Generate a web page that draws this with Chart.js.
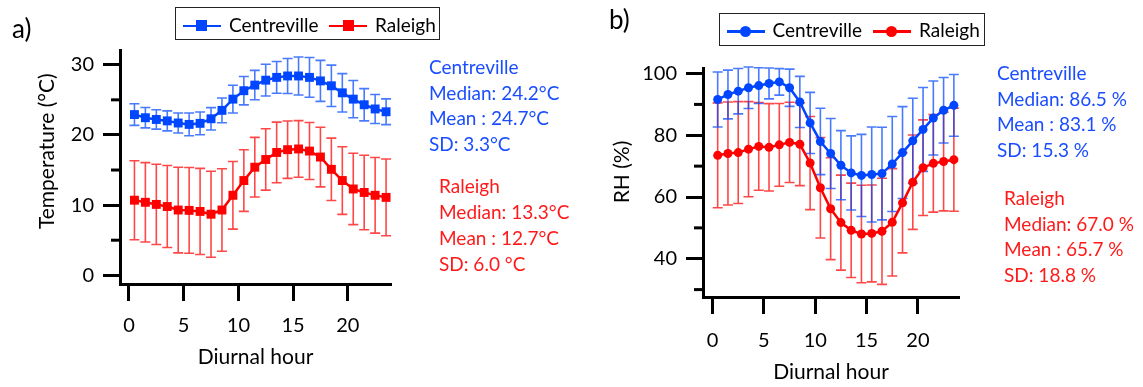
<!DOCTYPE html>
<html>
<head>
<meta charset="utf-8">
<script src="https://cdn.jsdelivr.net/npm/chart.js@4.4.1/dist/chart.umd.min.js"></script>
<style>
  body { margin: 0; background: #fff; font-family: Lato, sans-serif; }
  #wrap { position: relative; width: 1143px; height: 387px; overflow: hidden; }
  canvas { position: absolute; top: 0; }
  .panel { position: absolute; font-size: 26px; line-height: 26px; color: #000; }
  .note { position: absolute; font-size: 19px; line-height: 25.7px; white-space: nowrap; }
  .lgbox { position: absolute; border: 1.5px solid #222; box-sizing: border-box; }
  .lgtxt { position: absolute; font-size: 19px; line-height: 19px; white-space: nowrap; color: #000; }
  .lgseg { position: absolute; height: 2.5px; }
  .lgmark { position: absolute; width: 11px; height: 11px; }
</style>
</head>
<body>
<div id="wrap">
  <canvas id="temp" width="571" height="387" style="left:0"></canvas>
  <canvas id="rh" width="572" height="387" style="left:571px"></canvas>
  <div class="panel" style="left:12px;top:15px">a)</div>
  <div class="panel" style="left:609px;top:6px">b)</div>
</div>
<script>
// diurnal hour (bin centres)
const hours = [0.5, 1.5, 2.5, 3.5, 4.5, 5.5, 6.5, 7.5, 8.5, 9.5, 10.5, 11.5,
  12.5, 13.5, 14.5, 15.5, 16.5, 17.5, 18.5, 19.5, 20.5, 21.5, 22.5, 23.5];
const sites = ['Centreville', 'Raleigh'];

// temperature (°C), mean and SD per hour
const tempCentreville = [22.9, 22.45, 22.2, 22.0, 21.7, 21.5, 21.65, 22.3, 23.5, 25.1, 26.3, 27.1,
  27.8, 28.2, 28.4, 28.4, 28.2, 27.7, 27.0, 26.0, 25.1, 24.3, 23.7, 23.3];
const tempCentrevilleSD = [1.54, 1.45, 1.38, 1.43, 1.43, 1.62, 1.62, 1.59, 1.76, 1.97, 2.02, 2.09,
  2.26, 2.26, 2.49, 2.71, 2.83, 2.92, 2.95, 2.73, 2.66, 2.3, 2.07, 1.83];
const tempRaleigh = [10.7, 10.4, 10.1, 9.8, 9.3, 9.25, 9.1, 8.7, 9.3, 11.4, 13.5, 15.4,
  16.5, 17.5, 17.9, 18.0, 17.7, 16.85, 15.1, 13.5, 12.3, 11.8, 11.4, 11.1];
const tempRaleighSD = [5.63, 5.65, 5.72, 5.84, 6.1, 6.1, 6.13, 6.13, 5.87, 4.82, 4.39, 4.25,
  4.37, 4.32, 4.09, 4.04, 4.06, 4.25, 4.44, 4.82, 5.08, 5.3, 5.39, 5.46];

// relative humidity (%), mean and SD per hour
const rhCentreville = [91.6, 93.2, 94.3, 95.4, 96.1, 96.8, 97.3, 95.4, 90.8, 84.0, 78.0, 74.1,
  70.3, 67.8, 67.0, 67.3, 67.6, 70.7, 74.4, 78.2, 81.9, 85.6, 88.1, 89.7];
const rhCentrevilleSD = [8.9, 7.9, 7.35, 6.7, 5.8, 5.0, 4.3, 6.05, 8.3, 9.9, 10.75, 11.35,
  11.2, 12.0, 13.3, 15.4, 15.0, 15.4, 14.9, 13.8, 13.6, 12.0, 10.6, 10.0];
const rhRaleigh = [73.5, 74.1, 74.4, 75.5, 76.4, 76.1, 76.9, 77.7, 77.1, 71.0, 63.0, 56.2,
  51.7, 49.2, 48.0, 48.2, 48.9, 51.8, 58.1, 64.8, 69.5, 70.9, 71.5, 72.1];
const rhRaleighSD = [17.0, 16.7, 16.5, 15.4, 14.2, 14.15, 13.4, 13.0, 13.4, 15.1, 16.3, 16.5,
  15.4, 15.3, 15.8, 15.7, 17.2, 17.4, 16.2, 15.3, 15.5, 15.8, 16.0, 16.7];

// ticks
const hourTicks = [0, 5, 10, 15, 20];
const tempTicks = [0, 10, 20, 30];
const tempMinorTicks = [5, 15, 25];
const rhTicks = [40, 60, 80, 100];
const rhMinorTicks = [30, 50, 70, 90];

// summary text
const tempNotesCentreville = ['Centreville', 'Median: 24.2°C', 'Mean : 24.7°C', 'SD: 3.3°C'];
const tempNotesRaleigh = ['Raleigh', 'Median: 13.3°C', 'Mean : 12.7°C', 'SD: 6.0 °C'];
const rhNotesCentreville = ['Centreville', 'Median: 86.5 %', 'Mean : 83.1 %', 'SD: 15.3 %'];
const rhNotesRaleigh = ['Raleigh', 'Median: 67.0 %', 'Mean : 65.7 %', 'SD: 18.8 %'];

const BLUE = '#0046ff';
const RED = '#ff0000';
const BLUE_ERR = 'rgba(0,70,255,0.72)';
const RED_ERR = 'rgba(255,0,0,0.72)';
const FONT = 'Lato';

// error bars drawn behind the lines, from the chart's own y scale
const errorBars = {
  id: 'errorBars',
  beforeDatasetsDraw(chart) {
    const ctx = chart.ctx;
    const ys = chart.scales.y;
    chart.data.datasets.forEach((ds, i) => {
      const meta = chart.getDatasetMeta(i);
      ctx.save();
      ctx.strokeStyle = ds.errorColor;
      ctx.lineWidth = 1.6;
      meta.data.forEach((pt, j) => {
        const v = ds.data[j].y, e = ds.errors[j];
        const top = ys.getPixelForValue(v + e);
        const bot = ys.getPixelForValue(v - e);
        ctx.beginPath();
        ctx.moveTo(pt.x, top); ctx.lineTo(pt.x, bot);
        ctx.moveTo(pt.x - 5, top); ctx.lineTo(pt.x + 5, top);
        ctx.moveTo(pt.x - 5, bot); ctx.lineTo(pt.x + 5, bot);
        ctx.stroke();
      });
      ctx.restore();
    });
  }
};

// short minor ticks on the y axis
const minorTicks = {
  id: 'minorTicks',
  afterDraw(chart, args, opts) {
    const ctx = chart.ctx;
    const ys = chart.scales.y;
    const x0 = chart.chartArea.left;
    ctx.save();
    ctx.strokeStyle = '#000';
    ctx.lineWidth = 3;
    opts.values.forEach(v => {
      const py = ys.getPixelForValue(v);
      ctx.beginPath();
      ctx.moveTo(x0, py); ctx.lineTo(x0 - 9, py);
      ctx.stroke();
    });
    ctx.restore();
  }
};

function series(vals) {
  return hours.map((h, i) => ({ x: h, y: vals[i] }));
}

function makeChart(id, o) {
  const sets = [
    { label: sites[0], data: series(o.cen), errors: o.cenSD, color: BLUE, errorColor: BLUE_ERR },
    { label: sites[1], data: series(o.ral), errors: o.ralSD, color: RED, errorColor: RED_ERR }
  ].map(d => ({
    label: d.label,
    data: d.data,
    errors: d.errors,
    errorColor: d.errorColor,
    borderColor: d.color,
    backgroundColor: d.color,
    pointBackgroundColor: d.color,
    pointBorderColor: d.color,
    pointBorderWidth: 0,
    pointStyle: o.marker,
    pointRadius: o.radius,
    borderWidth: 2.5,
    tension: 0,
    clip: false
  }));
  // later dataset drawn first -> keep Centreville on top
  sets.reverse();

  return new Chart(document.getElementById(id), {
    type: 'line',
    data: { datasets: sets },
    options: {
      responsive: false,
      animation: false,
      layout: { padding: { left: 0, right: o.padRight, top: o.padTop, bottom: 0 } },
      plugins: {
        legend: { display: false },
        tooltip: { enabled: false },
        minorTicks: { values: o.minor }
      },
      scales: {
        x: {
          type: 'linear',
          min: o.xMin,
          max: o.xMax,
          afterFit: s => { s.height = o.xH; },
          afterBuildTicks: s => { s.ticks = hourTicks.map(v => ({ value: v })); },
          grid: { display: true, drawOnChartArea: false, drawTicks: true, tickLength: 17, tickWidth: 3, tickColor: '#000' },
          border: { display: true, color: '#000', width: 3 },
          ticks: { autoSkip: false, maxRotation: 0, padding: o.xTickPad, color: '#000', font: { family: FONT, size: 20 }, callback: v => String(v) },
          title: { display: true, text: 'Diurnal hour', color: '#000', font: { family: FONT, size: 21 }, padding: { top: 0, bottom: o.xTitlePad } }
        },
        y: {
          type: 'linear',
          min: o.yMin,
          max: o.yMax,
          afterFit: s => { s.width = o.yW; },
          afterBuildTicks: s => { s.ticks = o.major.map(v => ({ value: v })); },
          grid: { display: true, drawOnChartArea: false, drawTicks: true, tickLength: 17, tickWidth: 3, tickColor: '#000' },
          border: { display: true, color: '#000', width: 3 },
          ticks: { autoSkip: false, padding: 9, color: '#000', font: { family: FONT, size: 20 }, callback: v => String(v) },
          // leading en-spaces nudge the centred title up, as in the original
          title: { display: true, text: '\u2002'.repeat(o.yTitleShift) + o.yTitle, color: '#000', font: { family: FONT, size: 21 }, padding: { top: o.yTitlePad, bottom: 0 } }
        }
      }
    },
    plugins: [errorBars, minorTicks]
  });
}

makeChart('temp', {
  cen: tempCentreville, cenSD: tempCentrevilleSD, ral: tempRaleigh, ralSD: tempRaleighSD,
  marker: 'rect', radius: 6.3,
  xMin: -0.82, xMax: 23.95, yMin: -1.24, yMax: 32.1,
  major: tempTicks, minor: tempMinorTicks, yTitle: 'Temperature (°C)', yTitleShift: 3,
  padTop: 50, padRight: 180, yW: 120, xH: 103,
  xTickPad: 13, xTitlePad: 17, yTitlePad: 35
});

makeChart('rh', {
  cen: rhCentreville, cenSD: rhCentrevilleSD, ral: rhRaleigh, ralSD: rhRaleighSD,
  marker: 'circle', radius: 4.5,
  xMin: -0.93, xMax: 24.0, yMin: 27.6, yMax: 101.8,
  major: rhTicks, minor: rhMinorTicks, yTitle: 'RH (%)', yTitleShift: 2,
  padTop: 68, padRight: 184, yW: 132, xH: 90,
  xTickPad: 15, xTitlePad: 2, yTitlePad: 39
});

// legends and side notes (HTML text)
const wrap = document.getElementById('wrap');
function add(cls, css, text) {
  const d = document.createElement('div');
  d.className = cls;
  Object.assign(d.style, css);
  if (text !== undefined) d.textContent = text;
  wrap.appendChild(d);
  return d;
}
function legend(box, items, round) {
  add('lgbox', { left: box[0] + 'px', top: box[1] + 'px', width: box[2] + 'px', height: box[3] + 'px' });
  items.forEach(it => {
    add('lgseg', { left: it.seg + 'px', top: (it.cy - 1.25) + 'px', width: '38px', background: it.color });
    add('lgmark', { left: (it.seg + 19 - 5.5) + 'px', top: (it.cy - 5.5) + 'px', background: it.color, borderRadius: round ? '50%' : '0' });
    add('lgtxt', { left: it.txt + 'px', top: it.ty + 'px' }, it.label);
  });
}
legend([175, 7, 265, 33], [
  { seg: 182.7, txt: 229, cy: 25.8, ty: 14.8, color: BLUE, label: sites[0] },
  { seg: 329.3, txt: 375, cy: 25.8, ty: 14.8, color: RED, label: sites[1] }
], false);
legend([719, 13, 266, 33], [
  { seg: 726.7, txt: 772.5, cy: 31.3, ty: 19.8, color: BLUE, label: sites[0] },
  { seg: 872.7, txt: 919, cy: 31.3, ty: 19.8, color: RED, label: sites[1] }
], true);

function notes(lines, x, y, color) {
  const d = add('note', { left: x + 'px', top: y + 'px', color: color });
  d.innerHTML = lines.join('<br>');
}
notes(tempNotesCentreville, 429, 54, '#1a4dff');
notes(tempNotesRaleigh, 439, 173.4, '#ff1a1a');
notes(rhNotesCentreville, 997, 60, '#1a4dff');
notes(rhNotesRaleigh, 1004, 185, '#ff1a1a');
</script>
</body>
</html>
